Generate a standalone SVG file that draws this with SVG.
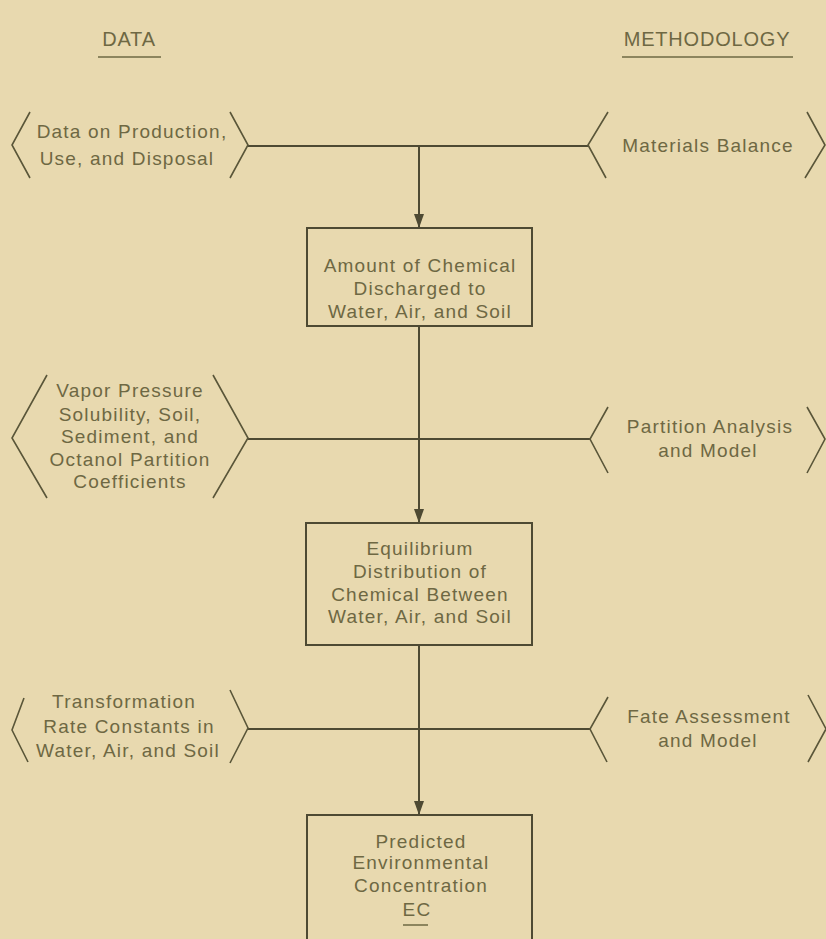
<svg xmlns="http://www.w3.org/2000/svg" width="826" height="939" viewBox="0 0 826 939">
  <defs>
    <style>
      .bg { fill: #E8D9AF; }
      .t { font-family: "Liberation Sans", Arial, sans-serif; font-size: 19px; letter-spacing: 1.2px; fill: #6E6843; text-anchor: middle; }
      .hdr { font-family: "Liberation Sans", Arial, sans-serif; font-size: 20px; letter-spacing: 0.8px; fill: #6E6843; text-anchor: middle; }
      .ul { stroke: #6E6843; stroke-width: 1.5; fill: none; }
      .box { fill: none; stroke: #4E4A33; stroke-width: 2; }
      .chev { fill: none; stroke: #5A5639; stroke-width: 1.6; stroke-linejoin: miter; }
      .ln { fill: none; stroke: #4E4A33; stroke-width: 2; }
    </style>
    <marker id="arrow" viewBox="0 0 14 10" refX="14" refY="5" markerWidth="14" markerHeight="10" markerUnits="userSpaceOnUse" orient="auto">
      <path d="M0,0 L14,5 L0,10 Z" fill="#4E4A33"/>
    </marker>
  </defs>

  <rect class="bg" x="0" y="0" width="826" height="939"/>

  <!-- column headings -->
  <g id="heading-data">
    <text class="hdr" x="129" y="46">DATA</text>
    <line class="ul" x1="98" y1="57" x2="161" y2="57"/>
  </g>
  <g id="heading-methodology">
    <text class="hdr" x="707" y="46">METHODOLOGY</text>
    <line class="ul" x1="622" y1="57" x2="793" y2="57"/>
  </g>

  <!-- connectors -->
  <g id="connectors">
    <path class="ln" d="M248,146 H588"/>
    <path class="ln" d="M419,146 V228" marker-end="url(#arrow)"/>
    <path class="ln" d="M248,439 H590"/>
    <path class="ln" d="M419,326 V523" marker-end="url(#arrow)"/>
    <path class="ln" d="M248,729 H590"/>
    <path class="ln" d="M419,645 V815" marker-end="url(#arrow)"/>
  </g>

  <!-- row 1 -->
  <g id="data-production">
    <polyline class="chev" points="30,112 12,145 30,178"/>
    <polyline class="chev" points="230,112 248,145 230,178"/>
    <text class="t" x="132" y="138">Data on Production,</text>
    <text class="t" x="127" y="165">Use, and Disposal</text>
  </g>
  <g id="materials-balance">
    <polyline class="chev" points="608,112 588,145 606,178"/>
    <polyline class="chev" points="807,112 825,145 805,178"/>
    <text class="t" x="708" y="152">Materials Balance</text>
  </g>
  <g id="amount-discharged">
    <rect class="box" x="307" y="228" width="225" height="98"/>
    <text class="t" x="420" y="272">Amount of Chemical</text>
    <text class="t" x="420" y="295">Discharged to</text>
    <text class="t" x="420" y="318">Water, Air, and Soil</text>
  </g>

  <!-- row 2 -->
  <g id="data-partition">
    <polyline class="chev" points="47,375 12,438 47,498"/>
    <polyline class="chev" points="213,375 248,438 213,498"/>
    <text class="t" x="130" y="397">Vapor Pressure</text>
    <text class="t" x="130" y="421">Solubility, Soil,</text>
    <text class="t" x="130" y="443">Sediment, and</text>
    <text class="t" x="130" y="466">Octanol Partition</text>
    <text class="t" x="130" y="488">Coefficients</text>
  </g>
  <g id="partition-analysis">
    <polyline class="chev" points="608,407 590,439 608,473"/>
    <polyline class="chev" points="807,407 825,439 807,473"/>
    <text class="t" x="710" y="433">Partition Analysis</text>
    <text class="t" x="708" y="457">and Model</text>
  </g>
  <g id="equilibrium-distribution">
    <rect class="box" x="306" y="523" width="226" height="122"/>
    <text class="t" x="420" y="555">Equilibrium</text>
    <text class="t" x="420" y="578">Distribution of</text>
    <text class="t" x="420" y="601">Chemical Between</text>
    <text class="t" x="420" y="623">Water, Air, and Soil</text>
  </g>

  <!-- row 3 -->
  <g id="data-transformation">
    <polyline class="chev" points="24,698 12,730 28,762"/>
    <polyline class="chev" points="230,690 248,728 230,763"/>
    <text class="t" x="124" y="708">Transformation</text>
    <text class="t" x="129" y="733">Rate Constants in</text>
    <text class="t" x="128" y="757">Water, Air, and Soil</text>
  </g>
  <g id="fate-assessment">
    <polyline class="chev" points="608,697 590,729 607,762"/>
    <polyline class="chev" points="808,695 826,729 808,762"/>
    <text class="t" x="709" y="723">Fate Assessment</text>
    <text class="t" x="708" y="747">and Model</text>
  </g>
  <g id="predicted-concentration">
    <rect class="box" x="307" y="815" width="225" height="140"/>
    <text class="t" x="421" y="848">Predicted</text>
    <text class="t" x="421" y="869">Environmental</text>
    <text class="t" x="421" y="892">Concentration</text>
    <text class="t" x="417" y="916">EC</text>
    <line class="ul" x1="403" y1="925" x2="428" y2="925"/>
  </g>
</svg>
